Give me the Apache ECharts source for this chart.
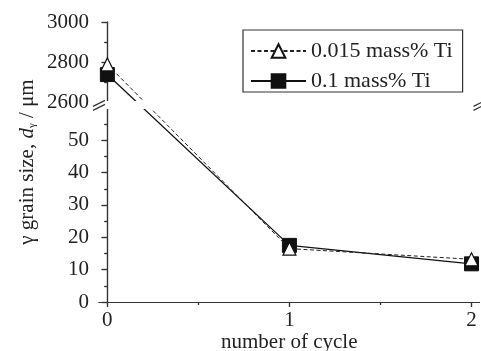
<!DOCTYPE html>
<html>
<head>
<meta charset="utf-8">
<script src="https://cdn.jsdelivr.net/npm/echarts@6/dist/echarts.min.js"></script>
<style>
    html, body { margin: 0; padding: 0; background: #fff; }
    #chart { width: 481px; height: 351px; }
</style>
</head>
<body>
<div id="chart"></div>
<script>
    // data
    const cycles = [0, 1, 2];
    const ti0015 = [2790, 16.5, 13.2]; // 0.015 mass% Ti, hollow triangles, dashed
    const ti01 = [2740, 17.5, 11.8];   // 0.1 mass% Ti, filled squares, solid
    const seriesNames = ['0.015 mass% Ti', '0.1 mass% Ti'];

    // tick values
    const xMajor = [0, 1, 2];
    const xMinor = [0.5, 1.5];
    const yMajor = [0, 10, 20, 30, 40, 50, 2600, 2800, 3000];
    const yMinor = [5, 15, 25, 35, 45, 55, 2700, 2900];

    // broken y axis: 0..60 below the break, 2600..3000 squeezed above it
    const LOW_TOP = 60, HIGH_BASE = 2600, HIGH_TOP = 3000;
    const GAP = 1.55, HIGH_SCALE = 1 / 16;
    function toAxis(v) {
        return v <= LOW_TOP ? v : LOW_TOP + GAP + (v - HIGH_BASE) * HIGH_SCALE;
    }
    function fromAxis(t) {
        return t <= LOW_TOP + GAP / 2 ? t : HIGH_BASE + (t - LOW_TOP - GAP) / HIGH_SCALE;
    }

    const FONT = "'Liberation Serif', 'Times New Roman', serif";
    const FS = 21;
    const INK = '#222';
    const AXIS = '#333';
    const X_MIN = -0.046, X_MAX = 2.044;
    const Y_MAX = toAxis(HIGH_TOP);

    function xAxisDef(pos, ticks, len, inside, withLine, withLabel) {
        return {
            type: 'value', position: pos, min: X_MIN, max: X_MAX,
            axisLine: { show: withLine, lineStyle: { color: AXIS, width: 1.2 } },
            axisTick: { show: true, inside: inside, length: len, customValues: ticks,
                        lineStyle: { color: AXIS, width: 1.2 } },
            axisLabel: withLabel ? {
                show: true, customValues: ticks, margin: 8,
                color: INK, fontFamily: FONT, fontSize: FS
            } : { show: false },
            splitLine: { show: false }
        };
    }
    function yAxisDef(pos, ticks, len, inside, withLine, withLabel) {
        const t = ticks.map(toAxis);
        return {
            type: 'value', position: pos, min: 0, max: Y_MAX,
            axisLine: { show: withLine, lineStyle: { color: AXIS, width: 1.2 } },
            axisTick: { show: true, inside: inside, length: len, customValues: t,
                        lineStyle: { color: AXIS, width: 1.2 } },
            axisLabel: withLabel ? {
                show: true, customValues: t, margin: 10,
                color: INK, fontFamily: FONT, fontSize: FS,
                formatter: v => String(Math.round(fromAxis(v)))
            } : { show: false },
            splitLine: { show: false }
        };
    }

    const bottomX = xAxisDef('bottom', xMajor, 5, false, true, true);
    bottomX.name = 'number of cycle';
    bottomX.nameLocation = 'middle';
    bottomX.nameGap = 30;
    bottomX.nameMoveOverlap = false;
    bottomX.nameTextStyle = { color: INK, fontFamily: FONT, fontSize: FS };

    const leftY = yAxisDef('left', yMajor, 6, false, true, true);
    leftY.name = 'γ grain size, {i|d}{s|γ} / μm';
    leftY.nameLocation = 'middle';
    leftY.nameGap = 61;
    leftY.nameMoveOverlap = false;
    leftY.nameTextStyle = {
        color: INK, fontFamily: FONT, fontSize: FS,
        rich: {
            i: { fontFamily: FONT, fontSize: FS, fontStyle: 'italic', color: INK },
            s: { fontFamily: FONT, fontSize: 11, color: INK, verticalAlign: 'bottom', padding: [8, 0, 0, 0] }
        }
    };

    const chart = echarts.init(document.getElementById('chart'));
    chart.setOption({
        animation: false,
        backgroundColor: '#fff',
        grid: { left: 99, top: 22, right: 1.5, bottom: 49, outerBoundsMode: 'none', containLabel: false },
        legend: {
            data: seriesNames,
            orient: 'vertical',
            left: 243, top: 30,
            padding: [10, 10, 0, 7],
            itemGap: 8,
            itemWidth: 55, itemHeight: 17,
            borderColor: AXIS, borderWidth: 1.2,
            textStyle: { color: INK, fontFamily: FONT, fontSize: 22 }
        },
        xAxis: [
            bottomX,
            xAxisDef('bottom', xMinor, 3, false, false, false),
            xAxisDef('top', xMajor, 5, true, true, false),
            xAxisDef('top', xMinor, 3, true, false, false)
        ],
        yAxis: [
            leftY,
            yAxisDef('left', yMinor, 3, false, false, false),
            yAxisDef('right', yMajor, 5, true, true, false),
            yAxisDef('right', yMinor, 3, true, false, false)
        ],
        series: [
            {
                name: seriesNames[1], type: 'line', z: 2,
                data: cycles.map((c, i) => [c, toAxis(ti01[i])]),
                symbol: 'rect', symbolSize: 14,
                lineStyle: { color: '#111', width: 1.3, type: 'solid' },
                itemStyle: { color: '#111', borderColor: '#111', borderWidth: 1 }
            },
            {
                name: seriesNames[0], type: 'line', z: 3,
                data: cycles.map((c, i) => [c, toAxis(ti0015[i])]),
                symbol: 'triangle', symbolSize: 13,
                lineStyle: { color: '#222', width: 1, type: [4, 2.5] },
                itemStyle: { color: '#fff', borderColor: '#111', borderWidth: 1.2 }
            }
        ]
    });

    // break band and the // marks, placed through the axis scales
    const yHigh = chart.convertToPixel({ yAxisIndex: 0 }, toAxis(HIGH_BASE));
    const yLow = chart.convertToPixel({ yAxisIndex: 0 }, LOW_TOP);
    const xL = chart.convertToPixel({ xAxisIndex: 0 }, X_MIN);
    const xR = chart.convertToPixel({ xAxisIndex: 0 }, X_MAX);
    const yc = (yHigh + yLow) / 2;
    const markStyle = { stroke: AXIS, lineWidth: 1.2 };
    function slash(x0, dy) {
        return { type: 'line', z: 100, silent: true,
                 shape: { x1: x0 - 6, y1: yc + 3 + dy, x2: x0 + 6, y2: yc - 3 + dy },
                 style: markStyle };
    }
    chart.setOption({
        graphic: [
            { type: 'rect', z: 99, silent: true,
              shape: { x: xL - 1, y: yHigh - 2, width: xR - xL + 2, height: yLow - yHigh + 3 },
              style: { fill: '#fff' } },
            slash(xL, -2), slash(xL, 2),
            slash(xR, -2), slash(xR, 2)
        ]
    });
</script>
</body>
</html>
